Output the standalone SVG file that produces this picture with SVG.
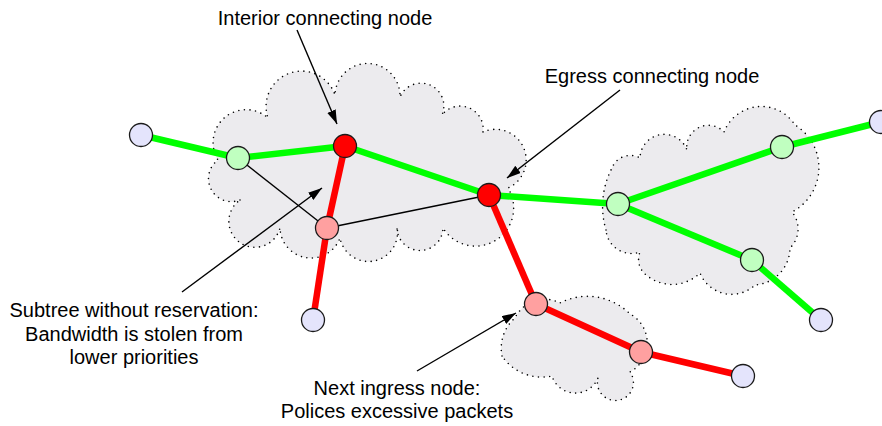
<svg xmlns="http://www.w3.org/2000/svg" width="882" height="426" viewBox="0 0 882 426">
  <style>
    .cloud { fill: #ecebee; stroke: #000; stroke-width: 1.6; stroke-dasharray: 0 5.6; stroke-linecap: round; }
    .green { stroke: #00ff00; stroke-width: 6.5; fill: none; }
    .red { stroke: #ff0000; stroke-width: 6.5; fill: none; }
    .thin { stroke: #000; stroke-width: 1.4; fill: none; }
    .arrow { stroke: #000; stroke-width: 1.4; fill: none; marker-end: url(#head); }
    .node { stroke: #1a1a1a; stroke-width: 1.3; }
    .n-end { fill: #e4e4fc; }
    .n-green { fill: #c0ffc0; }
    .n-red { fill: #ff0000; }
    .n-pink { fill: #ffa0a0; }
    .label { font-family: "Liberation Sans", Arial, sans-serif; font-size: 20px; fill: #000; text-anchor: middle; }
  </style>
  <defs>
    <marker id="head" markerUnits="userSpaceOnUse" markerWidth="15" markerHeight="10" refX="14" refY="4.5" orient="auto">
      <path d="M0,0 L14,4.5 L0,9 Z" fill="#000"/>
    </marker>
  </defs>

  <!-- domains -->
  <g id="clouds">
    <path id="cloud-core" class="cloud" d="M240,200 A23,23 0 0 1 218,160 A33,33 0 0 1 268,118 A35,35 0 0 1 335,95 A32.5,32.5 0 0 1 400,97 A22,22 0 0 1 442,115 A23,23 0 0 1 483,132 A30,30 0 0 1 508,188 A38,38 0 0 1 443,228 A23,23 0 0 1 397,227 A29,29 0 0 1 340,238 A31,31 0 0 1 280,228 A26,26 0 1 1 240,200 Z"/>
    <path id="cloud-east" class="cloud" d="M606,230 A83,83 0 0 1 612,168 A19.6,19.6 0 0 1 640,158 A24.3,24.3 0 0 1 687,150 A21.6,21.6 0 0 1 724,132 A40,40 0 0 1 795,125 A50,50 0 0 1 792,212 A26.6,26.6 0 0 1 790,248 A37.5,37.5 0 0 1 755,285 A34,34 0 0 1 700,273 A40,40 0 0 1 643,272 A20,20 0 0 1 640,252 A25.5,25.5 0 0 1 606,230 Z"/>
    <path id="cloud-south" class="cloud" d="M502,356 A40,40 0 0 1 515,318 A33,33 0 0 1 560,303 A60,60 0 0 1 630,314 A33,33 0 0 1 630,372 A18,18 0 1 1 598,378 A24.5,24.5 0 0 1 552,376 A48,48 0 0 1 502,356 Z"/>
  </g>

  <!-- links -->
  <g id="connectors">
    <line class="green" x1="141" y1="135" x2="238" y2="158"/>
    <line class="green" x1="238" y1="158" x2="345" y2="146"/>
    <line class="green" x1="345" y1="146" x2="489" y2="195"/>
    <line class="green" x1="489" y1="195" x2="618" y2="204"/>
    <line class="green" x1="618" y1="204" x2="782" y2="147"/>
    <line class="green" x1="782" y1="147" x2="881" y2="122"/>
    <line class="green" x1="618" y1="204" x2="752" y2="260"/>
    <line class="green" x1="752" y1="260" x2="821" y2="320"/>
    <line class="red" x1="345" y1="146" x2="327" y2="228"/>
    <line class="red" x1="327" y1="228" x2="313" y2="320"/>
    <line class="red" x1="489" y1="195" x2="536" y2="304"/>
    <line class="red" x1="536" y1="304" x2="641" y2="352"/>
    <line class="red" x1="641" y1="352" x2="743" y2="376"/>
    <line class="thin" x1="238" y1="158" x2="327" y2="228"/>
    <line class="thin" x1="327" y1="228" x2="489" y2="195"/>
  </g>

  <!-- routers -->
  <g id="node-src-west"><circle class="node n-end" cx="141" cy="135" r="11.5"/></g>
  <g id="node-west"><circle class="node n-green" cx="238" cy="158" r="11.5"/></g>
  <g id="node-interior"><circle class="node n-red" cx="345" cy="146" r="11.5"/></g>
  <g id="node-inner"><circle class="node n-pink" cx="327" cy="228" r="11.5"/></g>
  <g id="node-leaf-southwest"><circle class="node n-end" cx="313" cy="320" r="11.5"/></g>
  <g id="node-egress"><circle class="node n-red" cx="489" cy="195" r="11.5"/></g>
  <g id="node-east-entry"><circle class="node n-green" cx="618" cy="204" r="11.5"/></g>
  <g id="node-east-upper"><circle class="node n-green" cx="782" cy="147" r="11.5"/></g>
  <g id="node-leaf-east"><circle class="node n-end" cx="881" cy="122" r="11.5"/></g>
  <g id="node-east-lower"><circle class="node n-green" cx="752" cy="260" r="11.5"/></g>
  <g id="node-leaf-southeast"><circle class="node n-end" cx="821" cy="320" r="11.5"/></g>
  <g id="node-ingress"><circle class="node n-pink" cx="536" cy="304" r="11.5"/></g>
  <g id="node-south"><circle class="node n-pink" cx="641" cy="352" r="11.5"/></g>
  <g id="node-leaf-south"><circle class="node n-end" cx="743" cy="376" r="11.5"/></g>

  <!-- callouts -->
  <g id="callout-interior">
    <text class="label" x="325" y="25">Interior connecting node</text>
    <line class="arrow" x1="297" y1="30" x2="337" y2="124"/>
  </g>
  <g id="callout-egress">
    <text class="label" x="652" y="83">Egress connecting node</text>
    <line class="arrow" x1="620" y1="90" x2="507" y2="178"/>
  </g>
  <g id="callout-subtree">
    <text class="label" x="134" y="317">Subtree without reservation:</text>
    <text class="label" x="134" y="341">Bandwidth is stolen from</text>
    <text class="label" x="134" y="364">lower priorities</text>
    <line class="arrow" x1="182" y1="292" x2="322" y2="188"/>
  </g>
  <g id="callout-ingress">
    <text class="label" x="397" y="395">Next ingress node:</text>
    <text class="label" x="397" y="418">Polices excessive packets</text>
    <line class="arrow" x1="417" y1="371" x2="516" y2="313"/>
  </g>
</svg>
